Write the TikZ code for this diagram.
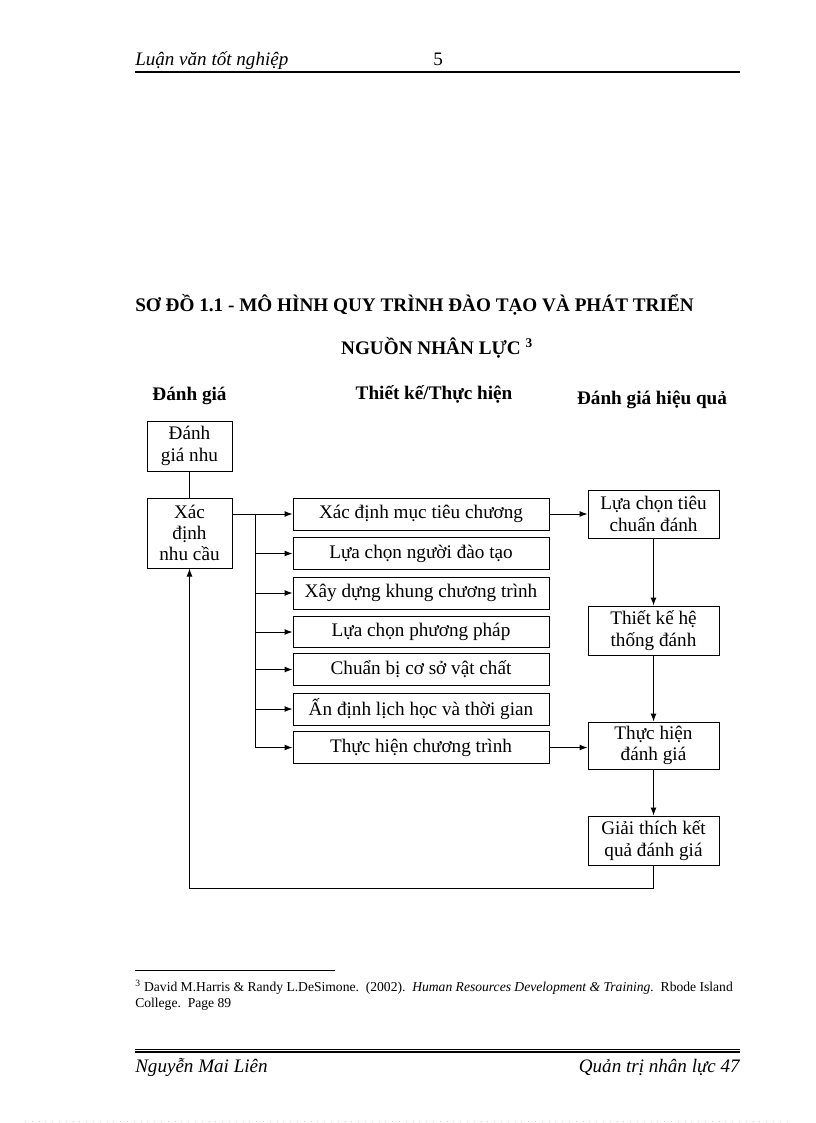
\documentclass[tikz,border=0pt]{standalone}
\usepackage{fontspec}
\setmainfont{Liberation Serif}
\usetikzlibrary{arrows.meta}
\begin{document}
\begin{tikzpicture}[x=0.75pt,y=-0.75pt,
  bw/.style={minimum width=#1*0.75pt},
  bh/.style={minimum height=#1*0.75pt},
  box/.style={draw, line width=0.75pt, inner sep=0pt, align=center, font=\fontsize{14.4}{16}\selectfont},
  arr/.style={line width=0.75pt, -{Latex[length=6pt,width=4.5pt]}},
  ln/.style={line width=0.75pt},
  lbl/.style={inner sep=0pt, anchor=base west},
  hd/.style={inner sep=0pt, font=\fontsize{14.4}{16}\selectfont\bfseries}]
\useasboundingbox[fill=white] (0,0) rectangle (816,1123);

% header
\node[lbl, font=\fontsize{14.3}{16}\selectfont\itshape] (hl) at (135,66) {Luận văn tốt nghiệp};
\node[lbl, font=\fontsize{14.3}{16}\selectfont] (hn) at (433,66) {5};
\coordinate (h1) at (135,72);
\coordinate (h2) at (740,72);
\draw[line width=1.5pt] (h1) -- (h2);

% title
\node[hd, anchor=base] (t1) at (414.5,311) {SƠ ĐỒ 1.1 - MÔ HÌNH QUY TRÌNH ĐÀO TẠO VÀ PHÁT TRIỂN};
\node[hd, anchor=base] (t2) at (437,354) {NGUỒN NHÂN LỰC \textsuperscript{\normalfont\bfseries 3}};

% column headings
\node[hd, anchor=base] (c1) at (189.5,400) {Đánh giá};
\node[hd, anchor=base] (c2) at (434,399) {Thiết kế/Thực hiện};
\node[hd, anchor=base] (c3) at (652,404) {Đánh giá hiệu quả};

% left boxes
\node[box, bw=85, bh=50] (nA) at (189.5,446) {Đánh\\giá nhu};
\node[box, bw=85, bh=70] (nB) at (189.5,533) {Xác\\định\\nhu cầu};

% middle boxes
\node[box, bw=256, bh=32] (m1) at (421,514) {Xác định mục tiêu chương};
\node[box, bw=256, bh=32] (m2) at (421,553.5) {Lựa chọn người đào tạo};
\node[box, bw=256, bh=32] (m3) at (421,593) {Xây dựng khung chương trình};
\node[box, bw=256, bh=31] (m4) at (421,632) {Lựa chọn phương pháp};
\node[box, bw=256, bh=32] (m5) at (421,669.5) {Chuẩn bị cơ sở vật chất};
\node[box, bw=256, bh=32] (m6) at (421,709) {Ấn định lịch học và thời gian};
\node[box, bw=256, bh=32] (m7) at (421,747.5) {Thực hiện chương trình};

% right boxes
\node[box, bw=131, bh=48] (r1) at (653.5,514) {Lựa chọn tiêu\\chuẩn đánh};
\node[box, bw=131, bh=49] (r2) at (653.5,630.5) {Thiết kế hệ\\thống đánh};
\node[box, bw=131, bh=47] (r3) at (653.5,745.5) {Thực hiện\\đánh giá};
\node[box, bw=131, bh=49] (r4) at (653.5,840.5) {Giải thích kết\\quả đánh giá};

% connectors
\draw[ln] (nA) -- (nB);
\coordinate (tk) at (255,514);
\draw[arr] (nB.east |- m1.west) -- (m1.west);
\draw[ln] (tk) -- (tk |- m7.west);
\foreach \m in {m2,m3,m4,m5,m6,m7} {
  \draw[arr] (tk |- \m.west) -- (\m.west);
}
\draw[arr] (m1.east) -- (r1.west |- m1.east);
\draw[arr] (m7.east) -- (r3.west |- m7.east);
\draw[arr] (r1) -- (r2);
\draw[arr] (r2) -- (r3);
\draw[arr] (r3) -- (r4);
\coordinate (lp) at (189.5,888);
\draw[arr] (r4.south) |- (lp) -- (nB.south);

% footnote
\coordinate (f1) at (135,970);
\coordinate (f2) at (335,970);
\draw[line width=0.6pt] (f1) -- (f2);
\node[lbl, font=\fontsize{10.2}{12}\selectfont] (fn1) at (135,991) {\textsuperscript{3} David M.Harris \& Randy L.DeSimone.\ \ (2002).\ \ \textit{Human Resources Development \& Training.}\ \ Rbode Island};
\node[lbl, font=\fontsize{10.2}{12}\selectfont] (fn2) at (135,1007) {College.\ \ Page 89};

% footer
\coordinate (g1) at (135,1049);
\coordinate (g2) at (740,1049);
\coordinate (g3) at (135,1052);
\coordinate (g4) at (740,1052);
\draw[line width=0.6pt] (g1) -- (g2);
\draw[line width=1.2pt] (g3) -- (g4);
\node[lbl, font=\fontsize{14.3}{16}\selectfont\itshape] (ft1) at (135,1072) {Nguyễn Mai Liên};
\node[inner sep=0pt, anchor=base east, font=\fontsize{14.3}{16}\selectfont\itshape] (ft2) at (740,1072) {Quản trị nhân lực 47};

% faint dotted line at bottom edge
\coordinate (d1) at (25,1121);
\coordinate (d2) at (792,1121);
\draw[gray!40, line width=0.5pt, dash pattern=on 0.6pt off 4.5pt] (d1) -- (d2);
\end{tikzpicture}
\end{document}
